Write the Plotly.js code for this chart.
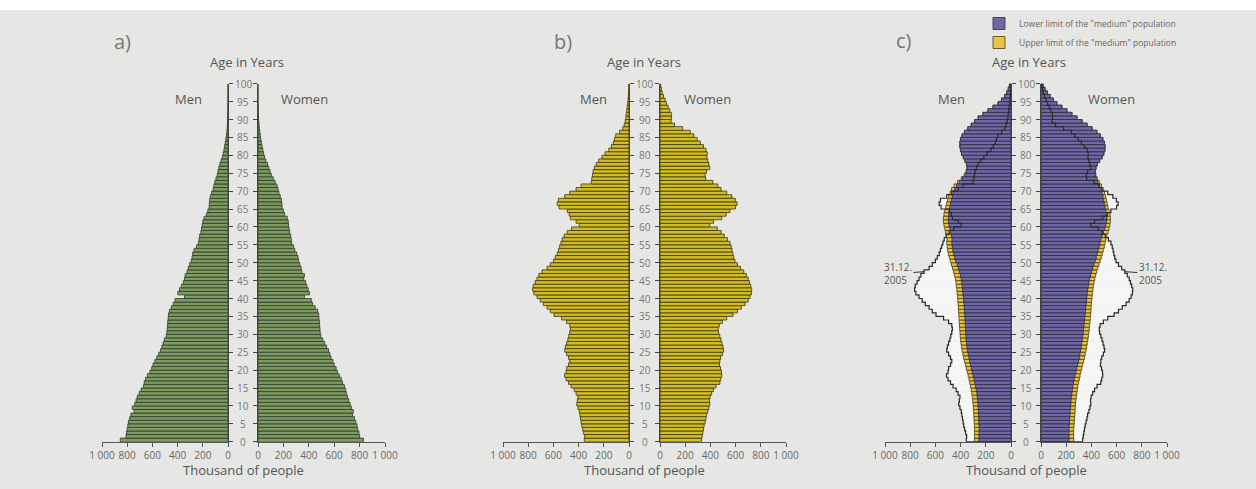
<!DOCTYPE html>
<html>
<head>
<meta charset="utf-8">
<script src="https://cdn.plot.ly/plotly-3.0.1.min.js"></script>
<style>html,body{margin:0;padding:0;background:#fff;}#chart{width:1256px;height:489px;}</style>
</head>
<body>
<div id="chart"></div>
<script>
// ---------- DATA (thousands of people, by age in years 0..99) ----------
const ages = Array.from({length: 100}, (_, i) => i);
const ageTicks = [0,5,10,15,20,25,30,35,40,45,50,55,60,65,70,75,80,85,90,95,100];
const xTicks = [0,200,400,600,800,1000];
const xTickText = ['0','200','400','600','800','1 000'];

// a) pyramid
const aMen = [855,810,805,800,795,790,780,770,745,760,
  740,730,720,705,690,670,665,655,640,620,
  605,595,580,565,550,535,525,515,505,490,
  485,482,480,478,475,472,465,450,435,420,
  345,398,385,370,355,345,340,325,315,305,
  292,285,280,270,250,235,230,225,215,210,
  205,200,190,170,160,150,148,145,140,130,
  118,112,105,95,85,80,72,65,55,45,
  38,32,27,22,17,12,9,7,5,4,
  3,2,1.5,1,0.5,0.3,0.2,0.1,0.1,0];
const aWomen = [830,800,795,785,780,770,760,745,750,735,
  725,715,705,695,690,680,665,655,640,625,
  615,600,590,575,565,555,540,525,510,495,
  490,488,485,483,480,478,470,450,430,420,
  365,405,395,385,375,360,365,345,340,330,
  320,315,305,290,280,265,262,258,250,245,
  240,238,230,210,200,190,188,185,175,165,
  158,150,135,120,105,95,85,75,62,52,
  44,38,32,27,22,18,14,11,8,6,
  4,3,2,1.5,1,0.5,0.3,0.2,0.1,0];

// b) pyramid (31.12.2005)
const bMen = [355,352,360,368,375,380,385,390,395,405,
  415,410,405,420,435,460,480,500,512,500,
  495,480,470,480,495,510,505,495,485,478,
  470,465,470,495,535,595,625,650,680,705,
  730,755,765,760,745,730,715,690,650,625,
  600,585,570,560,550,540,530,515,490,455,
  395,420,465,475,490,555,570,560,510,470,
  420,380,300,295,290,285,275,260,240,215,
  190,160,140,125,115,105,75,50,38,30,
  25,22,18,14,10,8,5,3,2,1];
const bWomen = [330,335,340,345,350,358,365,370,380,388,
  395,393,398,410,425,445,475,482,490,488,
  480,472,475,482,495,505,500,492,484,475,
  465,462,470,495,530,580,615,645,675,700,
  715,725,728,720,710,700,685,665,640,615,
  595,585,578,572,565,555,535,510,485,455,
  395,425,490,525,555,600,612,598,570,530,
  485,460,420,362,358,370,395,388,380,372,
  375,365,345,320,295,268,240,180,115,88,
  92,90,78,65,52,40,28,18,11,6];

// c) projection: lower and upper limit of the "medium" population
const cMenLower = [255,254,253,253,254,255,256,257,259,260,
  262,264,267,271,276,282,288,294,301,308,
  315,322,328,334,340,346,350,353,356,358,
  360,361,362,364,365,367,369,371,373,376,
  379,382,385,388,391,395,402,410,418,428,
  438,447,455,462,466,470,468,472,478,485,
  492,496,498,494,490,485,480,474,466,458,
  447,432,410,385,365,352,347,352,365,378,
  392,400,405,405,400,388,368,342,315,288,
  260,222,182,142,102,75,50,34,22,13];
const cMenUpper = [290,289,289,290,291,292,294,295,297,299,
  301,304,307,311,316,321,327,333,340,347,
  354,362,369,376,382,388,393,397,400,403,
  405,407,409,411,412,414,416,418,420,422,
  424,427,430,434,437,441,448,456,464,473,
  482,490,497,503,507,510,508,512,518,525,
  532,536,537,532,526,518,511,503,494,484,
  472,452,425,395,372,357,350,354,367,380,
  394,402,407,407,402,390,370,344,317,290,
  262,224,184,144,104,76,51,35,22,13];
const cWomenLower = [223,222,222,223,224,226,227,229,231,233,
  236,238,241,245,249,253,258,264,270,277,
  284,291,298,304,309,314,319,323,327,331,
  335,338,341,344,347,350,353,355,358,361,
  364,367,371,375,380,386,393,401,410,420,
  430,438,446,454,461,468,475,485,496,506,
  514,520,523,521,515,508,502,497,492,485,
  476,465,450,438,430,428,435,446,465,485,
  498,506,508,502,490,470,443,405,365,325,
  285,245,205,165,125,98,72,50,32,18];
const cWomenUpper = [260,259,259,260,262,264,266,268,270,272,
  274,277,280,284,288,292,298,304,310,317,
  324,331,338,345,351,357,362,367,372,376,
  380,383,386,389,391,394,396,398,400,402,
  405,408,412,416,421,427,434,442,451,460,
  470,478,486,494,502,509,515,523,532,540,
  546,550,551,547,540,532,525,519,512,504,
  494,480,462,447,436,432,438,448,467,487,
  500,508,510,504,492,472,445,407,367,327,
  287,247,207,167,127,99,73,51,33,18];

const seriesNames = ['Lower limit of the "medium" population', 'Upper limit of the "medium" population'];

// ---------- LAYOUT HELPERS ----------
const W = 1256, H = 489;
const px = v => v / W;
const py = v => 1 - v / H;
const yDom = [py(441.7), py(83.7)];
const yc = ages.map(a => a + 0.5);

const panels = [
  {men: [102, 228], women: [258, 385], label: 'a)', labelX: 122, labelY: 42, menX: 188, womenX: 304, ageX: 247},
  {men: [503, 629], women: [660, 786], label: 'b)', labelX: 563, labelY: 42, menX: 593, womenX: 707, ageX: 644},
  {men: [885, 1011], women: [1041, 1167], label: 'c)', labelX: 904, labelY: 40, menX: 951, womenX: 1111, ageX: 1029}
];

const greenFill = '#7e9b62', greenLine = '#2f3a27';
const yelFill = '#d3bd25', yelLine = '#3b3511';
const purFill = '#6f68a4', purLine = '#2c2946';
const upFill = '#e8c445', upLine = '#4a3e12';

function bar(x, axisIdx, fill, line, extra) {
  const s = axisIdx === 1 ? '' : String(axisIdx);
  return Object.assign({
    type: 'bar', orientation: 'h', x: x, y: yc, width: 1,
    xaxis: 'x' + s, yaxis: 'y' + s,
    marker: {color: fill, line: {color: line, width: 0.8}},
    showlegend: false, hoverinfo: 'skip'
  }, extra || {});
}
function outline(vals, axisIdx) {
  const s = axisIdx === 1 ? '' : String(axisIdx);
  return {
    type: 'scatter', mode: 'lines',
    x: [0].concat(vals, [0]), y: [0].concat(ages, [100]),
    line: {shape: 'vh', color: '#2a2a2a', width: 1.2},
    xaxis: 'x' + s, yaxis: 'y' + s, showlegend: false, hoverinfo: 'skip'
  };
}

const data = [
  bar(aMen, 1, greenFill, greenLine),
  bar(aWomen, 2, greenFill, greenLine),
  bar(bMen, 3, yelFill, yelLine),
  bar(bWomen, 4, yelFill, yelLine),
  bar(bMen, 5, '#f6f6f4', '#f6f6f4', {marker: {color: '#f6f6f4', line: {width: 0}}}),
  bar(bWomen, 6, '#f6f6f4', '#f6f6f4', {marker: {color: '#f6f6f4', line: {width: 0}}}),
  bar(cMenUpper, 5, upFill, upLine, {name: seriesNames[1], showlegend: true, legendrank: 2}),
  bar(cWomenUpper, 6, upFill, upLine),
  bar(cMenLower, 5, purFill, purLine, {name: seriesNames[0], showlegend: true, legendrank: 1}),
  bar(cWomenLower, 6, purFill, purLine),
  outline(bMen, 5),
  outline(bWomen, 6)
];

const layout = {
  width: W, height: H,
  margin: {l: 0, r: 0, t: 0, b: 0, pad: 0},
  paper_bgcolor: '#ffffff', plot_bgcolor: 'rgba(0,0,0,0)',
  font: {family: 'Open Sans, sans-serif', color: '#555'},
  barmode: 'overlay',
  showlegend: true,
  legend: {x: px(979), y: py(9), xanchor: 'left', yanchor: 'top', bgcolor: 'rgba(0,0,0,0)',
    font: {size: 8.5, color: '#666'}, itemclick: false, traceorder: 'normal'},
  shapes: [
    {type: 'rect', xref: 'paper', yref: 'paper', x0: 0, x1: 1, y0: 0, y1: py(10),
     fillcolor: '#e6e6e4', line: {width: 0}, layer: 'below'}
  ],
  annotations: []
};

panels.forEach((p, i) => {
  const mi = 2 * i + 1, wi = 2 * i + 2;
  const ms = mi === 1 ? '' : String(mi), ws = String(wi);
  const xBase = {showline: true, linecolor: '#555', linewidth: 1, ticks: 'outside', ticklen: 4,
    tickcolor: '#555', tickvals: xTicks, ticktext: xTickText, tickfont: {size: 10, color: '#666'},
    showgrid: false, zeroline: false, fixedrange: true};
  const yBase = {domain: yDom, range: [0, 100], showline: true, linecolor: '#444', linewidth: 1,
    ticks: 'outside', ticklen: 4, tickcolor: '#444', tickvals: ageTicks, showticklabels: false,
    showgrid: false, zeroline: false, fixedrange: true};
  layout['xaxis' + ms] = Object.assign({}, xBase, {domain: [px(p.men[0]), px(p.men[1])], range: [1000, 0], anchor: 'y' + ms});
  layout['xaxis' + ws] = Object.assign({}, xBase, {domain: [px(p.women[0]), px(p.women[1])], range: [0, 1000], anchor: 'y' + ws});
  layout['yaxis' + ms] = Object.assign({}, yBase, {anchor: 'x' + ms, side: 'right'});
  layout['yaxis' + ws] = Object.assign({}, yBase, {anchor: 'x' + ws, side: 'left'});

  const cx = (p.men[1] + p.women[0]) / 2;
  ageTicks.forEach(t => {
    layout.annotations.push({xref: 'paper', yref: 'y' + ms, x: px(cx), y: t, text: String(t),
      showarrow: false, xanchor: 'center', yanchor: 'middle', font: {size: 10, color: '#777'}});
  });
  layout.annotations.push(
    {xref: 'paper', yref: 'paper', x: px(p.labelX), y: py(p.labelY), text: p.label, showarrow: false,
     xanchor: 'center', yanchor: 'middle', font: {size: 20, color: '#777'}},
    {xref: 'paper', yref: 'paper', x: px(p.ageX), y: py(62), text: 'Age in Years', showarrow: false,
     xanchor: 'center', yanchor: 'middle', font: {size: 13, color: '#555'}},
    {xref: 'paper', yref: 'paper', x: px(p.menX), y: py(99), text: 'Men', showarrow: false,
     xanchor: 'center', yanchor: 'middle', font: {size: 13, color: '#555'}},
    {xref: 'paper', yref: 'paper', x: px(p.womenX), y: py(99), text: 'Women', showarrow: false,
     xanchor: 'center', yanchor: 'middle', font: {size: 13, color: '#555'}},
    {xref: 'paper', yref: 'paper', x: px(cx), y: py(470), text: 'Thousand of people', showarrow: false,
     xanchor: 'center', yanchor: 'middle', font: {size: 13, color: '#555'}}
  );
});

// 31.12.2005 labels in panel c
layout.annotations.push(
  {xref: 'x5', yref: 'y5', x: bMen[47], y: 47.5, text: '31.12.<br>2005', showarrow: true,
   arrowhead: 0, arrowwidth: 1, arrowcolor: '#333', ax: -26, ay: 2, font: {size: 10, color: '#555'}, align: 'left'},
  {xref: 'x6', yref: 'y6', x: bWomen[47], y: 47.5, text: '31.12.<br>2005', showarrow: true,
   arrowhead: 0, arrowwidth: 1, arrowcolor: '#333', ax: 28, ay: 2, font: {size: 10, color: '#555'}, align: 'left'}
);

Plotly.newPlot('chart', data, layout, {displayModeBar: false, staticPlot: true});
</script>
</body>
</html>
